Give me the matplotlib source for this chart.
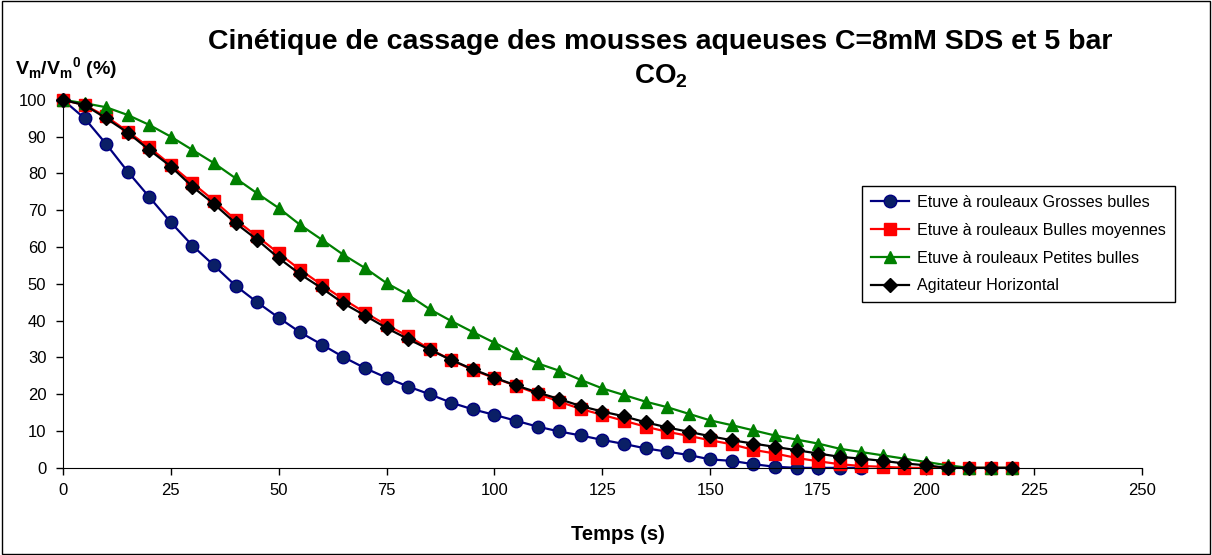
import matplotlib.pyplot as plt
from matplotlib.patches import Rectangle

plt.rcParams['font.family'] = ['Liberation Sans', 'DejaVu Sans']
plt.rcParams['mathtext.fontset'] = 'custom'
plt.rcParams['mathtext.bf'] = 'Liberation Sans:bold'
plt.rcParams['mathtext.rm'] = 'Liberation Sans'

temps = list(range(0, 225, 5))

grosses = [100, 95.0, 88.0, 80.5, 73.6, 66.7, 60.4, 55.0, 49.5, 45.0, 40.8, 36.8, 33.5, 30.1,
           27.1, 24.5, 22.1, 20.0, 17.7, 15.9, 14.4, 12.8, 11.2, 9.9, 8.8, 7.6, 6.5, 5.3, 4.4,
           3.5, 2.3, 1.9, 1.0, 0.3, 0, 0, 0, 0]
moyennes = [100, 98.6, 95.5, 91.4, 87.1, 82.3, 77.4, 72.6, 67.4, 62.9, 58.3, 53.8, 49.7, 45.8,
            42.2, 38.8, 35.8, 32.3, 29.3, 26.6, 24.4, 22.3, 20.1, 18.0, 16.0, 14.4, 12.8, 11.2,
            9.8, 8.7, 7.5, 6.4, 4.9, 3.9, 2.7, 1.8, 1.0, 0.5, 0.3, 0, 0, 0, 0, 0, 0]
petites = [100, 99.1, 98.0, 95.9, 93.2, 90.0, 86.4, 82.8, 78.7, 74.6, 70.6, 66.0, 62.0, 57.9,
           54.3, 50.2, 47.0, 43.1, 39.9, 36.9, 34.0, 31.1, 28.4, 26.4, 23.9, 21.6, 19.8, 18.0,
           16.5, 14.7, 12.9, 11.6, 10.2, 8.8, 7.7, 6.6, 5.2, 4.3, 3.4, 2.5, 1.6, 0.7, 0, 0, 0]
agitateur = [100, 98.6, 95.0, 91.1, 86.4, 81.9, 76.4, 71.7, 66.5, 62.0, 57.0, 52.6, 48.8, 44.7,
             41.4, 38.0, 35.0, 32.1, 29.3, 26.8, 24.5, 22.4, 20.5, 18.7, 16.8, 15.3, 14.0, 12.4,
             11.0, 9.8, 8.6, 7.5, 6.6, 5.7, 4.8, 3.9, 3.0, 2.5, 1.9, 1.2, 0.7, 0, 0, 0, 0]

labels = ['Etuve à rouleaux Grosses bulles', 'Etuve à rouleaux Bulles moyennes',
          'Etuve à rouleaux Petites bulles', 'Agitateur Horizontal']

fig = plt.figure(figsize=(12.12, 5.55), dpi=100)
ax = fig.add_axes([0.052, 0.157, 0.890, 0.663])

ax.plot(temps[:len(grosses)], grosses, color='#000080', marker='o', ms=9, lw=1.6,
        mfc='#0a1f66', mec='#000080', label=labels[0], clip_on=False)
ax.plot(temps, moyennes, color='#ff0000', marker='s', ms=8.5, lw=1.6,
        label=labels[1], clip_on=False)
ax.plot(temps, petites, color='#008000', marker='^', ms=9, lw=1.6,
        label=labels[2], clip_on=False)
ax.plot(temps, agitateur, color='black', marker='D', ms=6.8, lw=1.6,
        label=labels[3], clip_on=False)

ax.set_xlim(0, 250)
ax.set_ylim(0, 100)
ax.set_xticks(range(0, 275, 25))
ax.set_yticks(range(0, 110, 10))
ax.spines['top'].set_visible(False)
ax.spines['right'].set_visible(False)
ax.tick_params(direction='out', labelsize=12, length=5, width=1)
ax.tick_params(axis='y', pad=7)
ax.tick_params(axis='x', pad=6)
ax.set_xlabel('Temps (s)', fontsize=14.5, fontweight='bold')
ax.xaxis.set_label_coords(0.514, -0.155)

fig.text(0.545, 0.924, 'Cinétique de cassage des mousses aqueuses C=8mM SDS et 5 bar',
         ha='center', va='center', fontsize=20.5, fontweight='bold')
fig.text(0.545, 0.862, r'CO$_\mathbf{2}$', ha='center', va='center',
         fontsize=20, fontweight='bold')
fig.text(0.012, 0.877, r'V$_\mathbf{m}$/V$_\mathbf{m}$$^\mathbf{0}$ (%)', ha='left',
         va='center', fontsize=14, fontweight='bold')

leg = ax.legend(loc='upper left', bbox_to_anchor=(0.711, 0.665),
                bbox_transform=fig.transFigure, fontsize=11.6, fancybox=False,
                edgecolor='black', framealpha=1, borderpad=0.55, labelspacing=0.8,
                handlelength=2.4, handletextpad=0.5, borderaxespad=0)
leg.get_frame().set_linewidth(1)

fig.patches.append(Rectangle((0.002, 0.002), 0.996, 0.996, transform=fig.transFigure,
                             fill=False, edgecolor='black', lw=1))

fig.savefig('out.png', dpi=100)
